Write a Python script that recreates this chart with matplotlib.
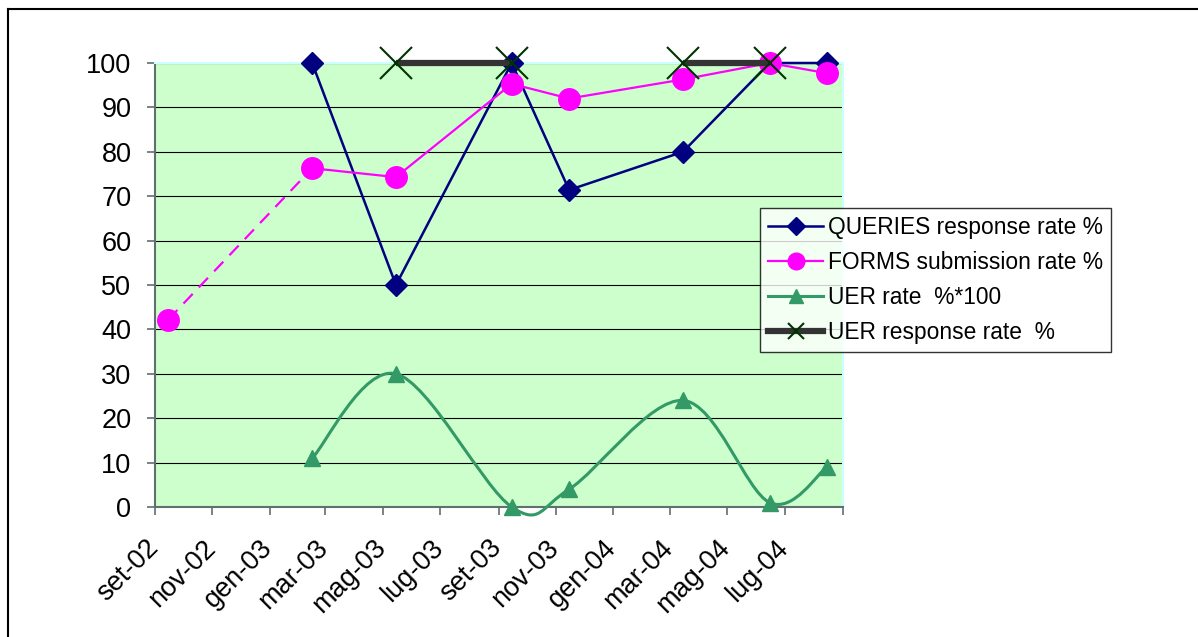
import numpy as np
import matplotlib.pyplot as plt
import matplotlib.dates as mdates
from matplotlib.path import Path
from matplotlib.patches import PathPatch
from matplotlib.lines import Line2D
from matplotlib.transforms import ScaledTranslation
from datetime import date

plt.rcParams['font.family'] = ['Liberation Sans', 'DejaVu Sans']

# survey dates (middle of month) and rates
form_dates = ['2002-09-15', '2003-02-15', '2003-05-15', '2003-09-15',
              '2003-11-15', '2004-03-15', '2004-06-15', '2004-08-15']
forms_rate = [42.2, 76.3, 74.3, 95.3, 92.0, 96.3, 100, 97.7]

query_dates = form_dates[1:]
queries_rate = [100, 50, 100, 71.4, 80, 100, 100]
uer_rate = [11, 30, 0, 4, 24, 1, 9]
uer_response = [np.nan, 100, 100, np.nan, 100, 100, np.nan]

tick_dates = ['2002-09-01', '2002-11-01', '2003-01-01', '2003-03-01', '2003-05-01',
              '2003-07-01', '2003-09-01', '2003-11-01', '2004-01-01', '2004-03-01',
              '2004-05-01', '2004-07-01', '2004-09-01']
tick_labels = ['set-02', 'nov-02', 'gen-03', 'mar-03', 'mag-03', 'lug-03', 'set-03',
               'nov-03', 'gen-04', 'mar-04', 'mag-04', 'lug-04', '']


def to_num(ds):
    return mdates.date2num([date.fromisoformat(d) for d in ds])


def smooth_path(x, y):
    # bezier through the points, like a spreadsheet "smoothed line"
    verts = [(x[0], y[0])]
    codes = [Path.MOVETO]
    n = len(x)
    for i in range(n - 1):
        x0, y0 = (x[i-1], y[i-1]) if i > 0 else (x[i], y[i])
        x3, y3 = (x[i+2], y[i+2]) if i + 2 < n else (x[i+1], y[i+1])
        c1 = (x[i] + (x[i+1] - x0) / 6, y[i] + (y[i+1] - y0) / 6)
        c2 = (x[i+1] - (x3 - x[i]) / 6, y[i+1] - (y3 - y[i]) / 6)
        verts += [c1, c2, (x[i+1], y[i+1])]
        codes += [Path.CURVE4] * 3
    return Path(verts, codes)


xf = to_num(form_dates)
xq = to_num(query_dates)
xt = to_num(tick_dates)

fig = plt.figure(figsize=(11.98, 6.37), dpi=100)
ax = fig.add_axes([155/1198, 1 - 507/637, 688/1198, 444/637])
ax.set_facecolor('#ccffcc')

navy = '#000080'
pink = '#ff00ff'
green = '#339966'

# QUERIES
ax.plot(xq, queries_rate, color=navy, lw=1.8, marker='D', ms=11,
        clip_on=False, zorder=3)

# FORMS: first stretch dashed
ax.plot(xf[:2], forms_rate[:2], color=pink, lw=1.6, dashes=(6, 4), zorder=4)
ax.plot(xf[1:], forms_rate[1:], color=pink, lw=1.6, zorder=4, clip_on=False)
ax.plot(xf, forms_rate, color=pink, lw=0, marker='o', ms=15.5,
        clip_on=False, zorder=4)

# UER rate, smoothed
curve = PathPatch(smooth_path(xq, uer_rate), facecolor='none', edgecolor=green,
                  lw=2.2, clip_on=False, zorder=5)
ax.add_patch(curve)
ax.plot(xq, uer_rate, lw=0, marker='^', color=green, ms=12,
        clip_on=False, zorder=5)

# UER response rate
ax.plot(xq, uer_response, color='#333333', lw=4.5, solid_capstyle='butt',
        clip_on=False, zorder=6)
ax.plot(xq, uer_response, lw=0, marker='x', color='#003300', ms=23, mew=1.5,
        clip_on=False, zorder=7)

ax.set_xlim(xt[0], xt[-1])
ax.set_ylim(0, 100)
ax.set_yticks(range(0, 101, 10))
ax.set_xticks(xt)
ax.set_xticklabels(tick_labels, rotation=45, ha='right', va='top',
                   rotation_mode='anchor')

ax.grid(axis='y', color='black', lw=0.8, zorder=1)
ax.set_axisbelow(True)

for s in ['left', 'bottom']:
    ax.spines[s].set_color('#607070')
    ax.spines[s].set_linewidth(1.5)
for s in ['top', 'right']:
    ax.spines[s].set_color('#ccffff')
    ax.spines[s].set_linewidth(1.5)

ax.tick_params(axis='both', colors='#607070', width=1.2, length=6,
               labelsize=19.5, labelcolor='black')
ax.tick_params(axis='y', pad=11)
ax.tick_params(axis='x', pad=14)

# nudge the slanted month labels to the left
shift = ScaledTranslation(-10/100, 0, fig.dpi_scale_trans)
for lbl in ax.get_xticklabels():
    lbl.set_transform(lbl.get_transform() + shift)

handles = [
    Line2D([], [], color=navy, lw=1.8, marker='D', ms=9),
    Line2D([], [], color=pink, lw=1.6, marker='o', ms=12),
    Line2D([], [], color=green, lw=2.2, marker='^', ms=10),
    Line2D([], [], color='#333333', lw=4.5, marker='x', ms=11,
           mec='#003300', mew=1.5),
]
labels = ['QUERIES response rate %', 'FORMS submission rate %',
          'UER rate  %*100', 'UER response rate  %']
leg = fig.legend(handles, labels, loc='upper left',
                 bbox_to_anchor=(760/1198, 1 - 208/637), fontsize=16.4,
                 frameon=True, fancybox=False, edgecolor='black',
                 handlelength=2.4, handletextpad=0.2, borderpad=0.37,
                 labelspacing=0.52, borderaxespad=0)
leg.get_frame().set_linewidth(1)

# chart frame
fig.add_artist(Line2D([8/1198, 1], [1 - 9/637] * 2, transform=fig.transFigure,
                      color='black', lw=1.5))
fig.add_artist(Line2D([8/1198] * 2, [0, 1 - 9/637], transform=fig.transFigure,
                      color='black', lw=1.5))

fig.savefig('out.png', dpi=100)
